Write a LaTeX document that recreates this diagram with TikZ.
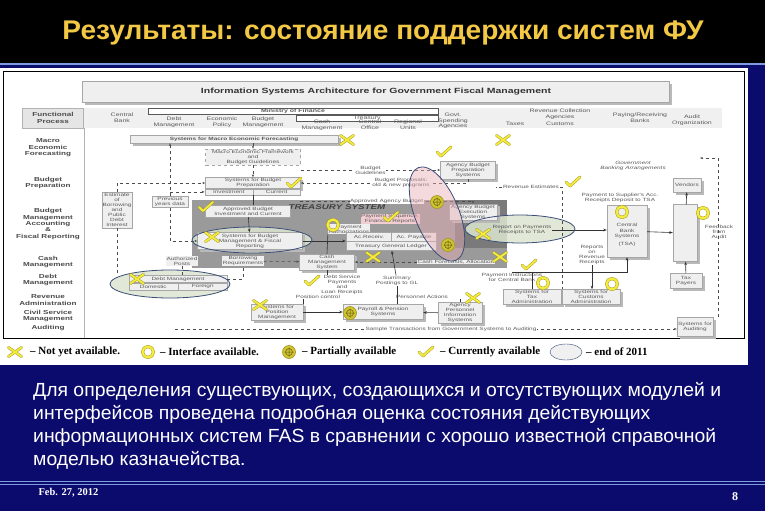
\documentclass[tikz,border=0pt]{standalone}
\usepackage{fontspec}
\setmainfont{Liberation Sans}
\newfontfamily\titlefont[FakeStretch=1.04]{Liberation Sans}
\newfontfamily\bodyfont[FakeStretch=1.02]{Liberation Sans}
\newfontfamily\diafont[FakeStretch=1.4]{Liberation Sans}
\newfontfamily\legfont{Liberation Serif}
\usetikzlibrary{arrows.meta,calc,fit,positioning,shapes.geometric,shadows}
\definecolor{Navy}{HTML}{0B0B6E}
\definecolor{Gold}{HTML}{F3C845}
\definecolor{RuleBlue}{HTML}{7F9BE0}
\definecolor{BoxGray}{HTML}{EFEFEF}
\definecolor{Ink}{HTML}{5A5A5A}
\definecolor{TreasGray}{HTML}{9A9A9A}
\definecolor{TreasDark}{HTML}{7A7A7A}
\definecolor{MarkYellow}{HTML}{F4EC3C}
\definecolor{MarkEdge}{HTML}{A39420}
\definecolor{Rose}{HTML}{E9AEB4}
\definecolor{Sage}{HTML}{DCE5D0}
\definecolor{RingBlue}{HTML}{3B4E78}
\newcommand\dtext{\diafont\fontsize{4.6}{5.1}\selectfont}
\tikzset{
  sysbox/.style={
    draw=gray!70, fill=BoxGray, font=\dtext, text=Ink, align=center,
    inner sep=0.8pt,
    drop shadow={opacity=1, fill=gray!55, shadow xshift=2.5pt, shadow yshift=-2.5pt}
  },
  flatbox/.style={draw=gray!70, fill=BoxGray, font=\dtext, text=Ink,
    align=center, inner sep=0.8pt},
  lbl/.style={font=\dtext, text=Ink, align=center, inner sep=0.5pt},
  colhdr/.style={font=\diafont\fontsize{5}{5.6}\selectfont, text=Ink, align=center, inner sep=0pt},
  rowhdr/.style={font=\diafont\bfseries\fontsize{5.8}{6.4}\selectfont,
    text=gray!60!black, align=center, inner sep=0pt},
  legtext/.style={font=\legfont\bfseries\fontsize{11}{12}\selectfont, anchor=west, inner sep=0pt},
  bodyline/.style={font=\bodyfont\fontsize{19}{23}\selectfont, text=white,
    anchor=base west, inner sep=0pt},
  dline/.style={draw=gray!60!black, dashed, line width=0.5pt},
  darr/.style={dline, -{Stealth[length=3pt]}},
  sline/.style={draw=gray!40!black, line width=0.6pt},
  arr/.style={sline, -{Stealth[length=3.5pt]}},
  markline/.style={draw=MarkEdge, double=MarkYellow, double distance=1.9pt,
    line width=0.45pt, line cap=round, line join=round},
  pics/notyet/.style={code={\draw[markline] (-6.5,-4.5) -- (6.5,4.5) (-6.5,4.5) -- (6.5,-4.5);}},
  pics/avail/.style={code={\draw[markline] (-6,0) -- (-2,4) -- (8,-5);}},
  pics/iface/.style={code={\draw[markline, double distance=2.2pt] (0,0) circle (5.5);}},
  pics/partial/.style={code={
    \draw[draw=MarkEdge, fill=MarkYellow!55!MarkEdge, line width=0.6pt] (0,0) circle (6.5);
    \draw[draw=MarkEdge!60!black, line width=0.5pt] (0,0) circle (3.5)
      (-4.5,0) -- (4.5,0) (0,-4.5) -- (0,4.5);}}
}
\begin{document}
\begin{tikzpicture}[x=1pt,y=-1pt]
  \useasboundingbox (0,0) rectangle (765,511);
  % slide background
  \fill[Navy] (0,0) rectangle (765,511);
  \fill[black] (0,0) rectangle (765,63);
  \draw[RuleBlue, line width=1.2pt] (0,64) -- (765,64);
  \node[font=\titlefont\bfseries\fontsize{27}{30}\selectfont, text=Gold] (title) at (383,33)
    {Результаты: состояние поддержки систем ФУ};

  % the architecture chart
  \fill[white] (0,68) rectangle (748,365);
  \draw[line width=0.6pt] (3,71) rectangle (744,338);
  \node[sysbox, minimum width=587, minimum height=21,
    font=\diafont\bfseries\fontsize{7.5}{8}\selectfont, text=black!80] (head) at (376,92)
    {Information Systems Architecture for Government Fiscal Management};
  \fill[gray!12] (84,108) rectangle (722,128);
  \node[draw=gray!60, fill=gray!20, minimum width=61, minimum height=20, rowhdr] (funcp) at (53,118)
    {Functional\\Process};
  \node[draw=gray!70!black, fill=white, minimum width=290, minimum height=6,
    colhdr, font=\diafont\bfseries\fontsize{5}{5.6}\selectfont] (mof) at (293,111) {Ministry of Finance};
  \node[draw=gray!70!black, fill=white, minimum width=142, minimum height=6, colhdr] (treas) at (367,118) {Treasury};
  \node[colhdr] (cbank) at (122,118) {Central\\Bank};
  \node[colhdr] (cdebt) at (174,122) {Debt\\Management};
  \node[colhdr] (cecon) at (222,122) {Economic\\Policy};
  \node[colhdr] (cbudg) at (263,122) {Budget\\Management};
  \node[colhdr] (ccash) at (322,125) {Cash\\Management};
  \node[colhdr] (ccent) at (370,125) {Central\\Office};
  \node[colhdr] (creg) at (408,125) {Regional\\Units};
  \node[colhdr] (cgov) at (453,121) {Govt.\\Spending\\Agencies};
  \node[colhdr] (crev) at (560,114) {Revenue Collection\\Agencies};
  \node[colhdr] (ctax) at (515,124) {Taxes};
  \node[colhdr] (ccus) at (560,124) {Customs};
  \node[colhdr] (cpay) at (640,118) {Paying/Receiving\\Banks};
  \node[colhdr] (caud) at (692,120) {Audit\\Organization};

  % functional processes
  \draw[gray!60, line width=0.8pt] (84,128) -- (84,338);
  \node[rowhdr] (rmacro) at (48,148) {Macro\\Economic\\Forecasting};
  \node[rowhdr] (rprep) at (48,183) {Budget\\Preparation};
  \node[rowhdr] (rmgmt) at (48,224) {Budget\\Management\\Accounting\\\&\\Fiscal Reporting};
  \node[rowhdr] (rcash) at (48,262) {Cash\\Management};
  \node[rowhdr] (rdebt) at (48,280) {Debt\\Management};
  \node[rowhdr] (rrev) at (48,300) {Revenue\\Administration};
  \node[rowhdr] (rcivil) at (48,316) {Civil Service\\Management};
  \node[rowhdr] (raud) at (48,328) {Auditing};

  % treasury system
  \fill[TreasGray] (192,200) rectangle (507,268);
  \fill[TreasDark] (455,200) rectangle (507,248);
  \node[font=\diafont\bfseries\itshape\fontsize{7}{8}\selectfont, text=black!75] (tsys) at (337,207) {TREASURY SYSTEM};
  \fill[Sage, fill opacity=0.85] (252,240) ellipse [x radius=60, y radius=13];
  \fill[Sage, fill opacity=0.85] (170,284) ellipse [x radius=60, y radius=14];
  \fill[Sage, fill opacity=0.85] (520,229) ellipse [x radius=55, y radius=14];

  % systems
  \node[sysbox, minimum width=208, minimum height=8, font=\dtext\bfseries] (macro) at (234,139)
    {Systems for Macro Economic Forecasting};
  \node[flatbox, dashed, minimum width=95, minimum height=16] (frame) at (253,157)
    {Macro Economic Framework\\and\\Budget Guidelines};
  \node[sysbox, minimum width=95, minimum height=11] (budgprep) at (253,183)
    {Systems for Budget\\Preparation};
  \node[flatbox, minimum width=48, minimum height=6, anchor=north east] (inv) at (budgprep.south) {Investment};
  \node[flatbox, minimum width=47, minimum height=6, anchor=north west] (cur) at (budgprep.south) {Current};
  \node[sysbox, minimum width=55, minimum height=18] (agbp) at (468,170)
    {Agency Budget\\Preparation\\Systems};
  \node[flatbox, minimum width=30, minimum height=30] (est) at (117,210)
    {Estimate\\of\\Borrowing\\and\\Public\\Debt\\Interest};
  \node[flatbox, minimum width=36, minimum height=11] (prev) at (170,202) {Previous\\years data};
  \node[flatbox, minimum width=85, minimum height=12] (apb) at (248,211)
    {Approved Budget\\Investment and Current};
  \node[sysbox, minimum width=105, minimum height=17] (sbm) at (250,241)
    {Systems for Budget\\Management \& Fiscal\\Reporting};
  \node[lbl, fill=BoxGray] (pauth) at (349,229) {Payment\\Authorizations};
  \node[lbl, fill=Rose!60] (payseq) at (390,219) {Payment Sequence,\\Financial Reports};
  \node[sysbox, minimum width=48, minimum height=15] (abe) at (473,212)
    {Agency Budget\\Execution\\Systems};
  \node[flatbox, minimum width=45, minimum height=9] (acr) at (369,237) {Ac.Receiv.};
  \node[flatbox, minimum width=45, minimum height=9] (acp) at (414,237) {Ac. Payable};
  \node[flatbox, minimum width=90, minimum height=9] (tgl) at (391,246) {Treasury General Ledger};
  \node[sysbox, minimum width=55, minimum height=13] (cms) at (327,262)
    {Cash\\Management\\System};
  \node[lbl, fill=BoxGray] (borrow) at (243,261) {Borrowing\\Requirements};
  \node[lbl, fill=BoxGray] (authp) at (182,261) {Authorized\\Posts};
  \node[lbl, fill=BoxGray] (cashfc) at (456,262) {Cash Forecasts, Allocation};
  \node[flatbox, minimum width=98, minimum height=7] (debt) at (178,279) {Debt Management};
  \node[flatbox, minimum width=49, minimum height=7, anchor=north east] (dom) at (debt.south) {Domestic};
  \node[flatbox, minimum width=49, minimum height=7, anchor=north west] (forn) at (debt.south) {Foreign};
  \node[lbl] (repay) at (522,230) {Report on Payments\\Receipts to TSA};
  \node[lbl] (payinst) at (512,277) {Payment Instructions\\for Central Bank};
  \node[lbl] (dsp) at (342,285) {Debt Service\\Payments\\and\\Loan Receipts};
  \node[lbl] (summ) at (397,281) {Summary\\Postings to GL};
  \node[lbl] (posctl) at (318,297) {Position control};
  \node[lbl] (persact) at (422,297) {Personnel Actions};
  \node[sysbox, minimum width=52, minimum height=15] (spm) at (277,312)
    {Systems for\\Position\\Management};
  \node[sysbox, minimum width=80, minimum height=15] (pay) at (383,312)
    {Payroll \& Pension\\Systems};
  \node[sysbox, minimum width=44, minimum height=17] (api) at (460,313)
    {Agency\\Personnel\\Information\\Systems};
  \node[sysbox, minimum width=58, minimum height=15] (tax) at (532,297)
    {Systems for\\Tax\\Administration};
  \node[sysbox, minimum width=58, minimum height=15] (cust) at (591,297)
    {Systems for\\Customs\\Administration};
  \node[sysbox, minimum width=36, minimum height=19] (audit) at (695,327)
    {Systems for\\Auditing};
  \node[lbl, font=\dtext\itshape] (gba) at (633,166) {Government\\Banking Arrangements};
  \node[sysbox, minimum width=28, minimum height=14] (vendors) at (687,185) {Vendors};
  \node[lbl] (ptsa) at (620,198) {Payment to Supplier's Acc.\\Receipts Deposit to TSA};
  \node[sysbox, minimum width=40, minimum height=52] (cbs) at (627,231)
    {\\[6pt]Central\\Bank\\Systems\\[3pt](TSA)};
  \node[sysbox, minimum width=24, minimum height=57] (banks) at (685,233) {};
  \node[lbl] (feedb) at (719,232) {Feedback\\from\\Audit};
  \node[lbl] (rrr) at (592,255) {Reports\\on\\Revenue\\Receipts};
  \node[sysbox, minimum width=32, minimum height=15] (taxp) at (686,281) {Tax\\Payers};
  \node[lbl] (revest) at (531,187) {Revenue Estimates};

  % flows
  \draw[darr] (macro.south -| frame) -- (frame.north);
  \draw[darr] (frame) -- (budgprep);
  \draw[darr] (agbp.west -| frame.east) -- node[lbl, fill=white] {Budget\\Guidelines} (agbp.west);
  \draw[darr] (agbp.south) |- node[lbl, fill=white, pos=0.7] {Budget Proposals:\\old \& new programs} (budgprep.east);
  \draw[darr] (cur.east |- tsys.north) -- node[lbl, fill=white] {Approved Agency Budget} (tsys.north -| abe) -- (abe.north);
  \draw[dline] (revest) -- (revest -| agbp.east);
  \draw[dline] (revest.east) -| (tax.north -| cust.west);
  \draw[darr] (prev) -- (prev |- macro.south);
  \draw[darr] (prev.south) |- (sbm.west);
  \draw[darr] (prev.north |- inv.west) -- (inv.west);
  \draw[darr] (est.north) |- (budgprep.west);
  \draw[dline] (est.south) -- (est.south |- debt.north);
  \draw[sline] (cur.south west) -- (apb.north -| cur.south west);
  \draw[arr] (apb) -- (sbm);
  \draw[arr] (sbm.east) -- (sbm.east -| tgl.west);
  \draw[sline] (pauth.south west) -- (cms.north);
  \draw[darr] (borrow) -- (cms);
  \draw[darr] (cashfc) -- (cms);
  \draw[dline] (debt.east) -| (borrow.south);
  \draw[dline] (authp.south) -- (authp.south |- debt.north);
  \draw[arr] (summ) -- (tgl);
  \draw[sline] (pay.north -| summ) -- (summ);
  \draw[sline] (cms.south) -- (cms.south |- dsp.north);
  \draw[sline] (posctl.south -| spm.east) -- (spm.north east);
  \draw[sline] (persact.south -| api) -- (api.north);
  \draw[arr] (spm) -- (pay);
  \draw[arr] (api) -- (pay);
  \draw[arr] (payinst.north) -| (cbs.south);
  \draw[sline] (tax.north) -- (tax.north |- payinst.north);
  \draw[arr] (rrr.south) -- (rrr.south |- cust.north);
  \draw[arr] (repay) -- (repay -| cbs.west);
  \draw[arr] (cbs) -- (banks);
  \draw[arr] (banks) -- (vendors);
  \draw[arr] (taxp) -- (banks);
  \coordinate (fbtop) at (700,158);
  \coordinate (fbturn) at (718,158);
  \draw[darr] (fbturn |- audit.north) -- (fbturn) -- (fbtop);
  \coordinate (smpl) at (175,329);
  \draw[darr] (smpl) -- node[lbl, fill=white, pos=0.55] {Sample Transactions from Government Systems to Auditing} (smpl -| audit.west);

  % status rings
  \draw[RingBlue, line width=0.8pt] (252,240) ellipse [x radius=60, y radius=13];
  \draw[RingBlue, line width=0.8pt] (170,284) ellipse [x radius=60, y radius=14];
  \draw[RingBlue, line width=0.8pt] (520,229) ellipse [x radius=55, y radius=14];
  \draw[RingBlue, line width=0.8pt, fill=Rose, fill opacity=0.45, rotate around={22:(437,214)}]
    (437,214) ellipse [x radius=22, y radius=50];

  % status marks
  \foreach \p in {(347,140),(503,140),(212,237),(137,279),(260,305),(373,257),(483,234),(500,257),(473,298)}
    \pic at \p {notyet};
  \foreach \p in {(443,152),(293,183),(205,207),(390,217),(572,182),(528,265),(311,281)}
    \pic at \p {avail};
  \foreach \p in {(333,225),(622,212),(703,213),(543,283),(612,284)}
    \pic at \p {iface};
  \foreach \p in {(437,202),(448,245),(350,313)}
    \pic at \p {partial};

  % legend
  \pic at (15,352) {notyet};
  \node[legtext] (lg1) at (30,352) {– Not yet available.};
  \pic at (148,352) {iface};
  \node[legtext] (lg2) at (160,352) {– Interface available.};
  \pic at (289,352) {partial};
  \node[legtext] (lg3) at (302,352) {– Partially available};
  \pic at (425,352) {avail};
  \node[legtext] (lg4) at (440,352) {– Currently available};
  \draw[RingBlue, fill=gray!12] (566,352) ellipse [x radius=16, y radius=8];
  \node[legtext] (lg5) at (586,352) {– end of 2011};

  % slide text
  \node[bodyline] (ln1) at (33,396) {Для определения существующих, создающихся и отсутствующих модулей и};
  \node[bodyline] (ln2) at (33,419) {интерфейсов проведена подробная оценка состояния действующих};
  \node[bodyline] (ln3) at (33,442) {информационных систем FAS в сравнении с хорошо известной справочной};
  \node[bodyline] (ln4) at (33,465) {моделью казначейства.};
  \draw[RuleBlue, line width=0.8pt] (0,481) -- (765,481);
  \draw[RuleBlue, line width=0.8pt] (0,484) -- (765,484);
  \node[font=\legfont\bfseries\fontsize{10.5}{11}\selectfont, text=white, anchor=west] (date) at (35,493) {Feb. 27, 2012};
  \node[font=\legfont\bfseries\fontsize{12}{13}\selectfont, text=white] (pgno) at (735,497) {8};
\end{tikzpicture}
\end{document}
